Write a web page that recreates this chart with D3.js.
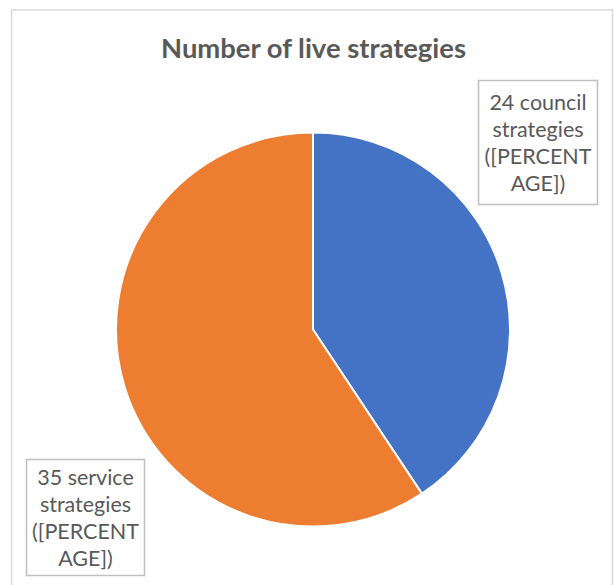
<!DOCTYPE html>
<html>
<head>
<meta charset="utf-8">
<script src="https://cdn.jsdelivr.net/npm/d3@7"></script>
<style>
    html, body { margin: 0; padding: 0; background: #fff; }
    svg { display: block; font-family: Lato, "Open Sans", sans-serif; }
</style>
</head>
<body>
<script>
// data
var categories = ['council', 'service'];
var values = [24, 35];
var labelLines = [
    ['24 council', 'strategies', '([PERCENT', 'AGE])'],
    ['35 service', 'strategies', '([PERCENT', 'AGE])']
];
var colors = ['#4472C4', '#ED7D31'];

var width = 614;
var height = 585;

var svg = d3.select('body')
    .append('svg')
    .attr('width', width)
    .attr('height', height);

// chart frame
svg.append('rect')
    .attr('x', 11.5)
    .attr('y', 10)
    .attr('width', 601)
    .attr('height', 600)
    .attr('fill', '#fff')
    .attr('stroke', '#d9d9d9')
    .attr('stroke-width', 1.5);

svg.append('text')
    .attr('x', 313.5)
    .attr('y', 58)
    .attr('text-anchor', 'middle')
    .attr('font-size', 27.4)
    .attr('font-weight', 'bold')
    .attr('fill', '#595959')
    .text('Number of live strategies');

var cx = 313;
var cy = 329.5;
var radius = 197;

var pie = d3.pie()
    .sort(null)
    .value(function (d) {
        return d;
    });

var arc = d3.arc()
    .innerRadius(0)
    .outerRadius(radius);

var g = svg.append('g')
    .attr('transform', 'translate(' + cx + ',' + cy + ')');

g.selectAll('path')
    .data(pie(values))
    .enter()
    .append('path')
    .attr('d', arc)
    .attr('fill', function (d, i) {
        return colors[i];
    })
    .attr('stroke', '#fff')
    .attr('stroke-width', 2);

// data labels (boxes placed like the original's callouts)
var boxes = [
    { x: 478.5, y: 80.5, w: 119, h: 124 },
    { x: 26.5, y: 459.5, w: 118, h: 116 }
];

var lineHeight = 27;

boxes.forEach(function (b, i) {
    var lg = svg.append('g');
    lg.append('rect')
        .attr('x', b.x)
        .attr('y', b.y)
        .attr('width', b.w)
        .attr('height', b.h)
        .attr('fill', '#fff')
        .attr('stroke', '#bfbfbf')
        .attr('stroke-width', 1.5);

    var lines = labelLines[i];
    var startY = b.y + b.h / 2 - (lines.length - 1) * lineHeight / 2;
    lg.selectAll('text')
        .data(lines)
        .enter()
        .append('text')
        .attr('x', b.x + b.w / 2)
        .attr('y', function (d, j) {
            return startY + j * lineHeight;
        })
        .attr('dy', '0.35em')
        .attr('text-anchor', 'middle')
        .attr('font-size', 21.5)
        .attr('fill', '#595959')
        .text(function (d) {
            return d;
        });
});
</script>
</body>
</html>
